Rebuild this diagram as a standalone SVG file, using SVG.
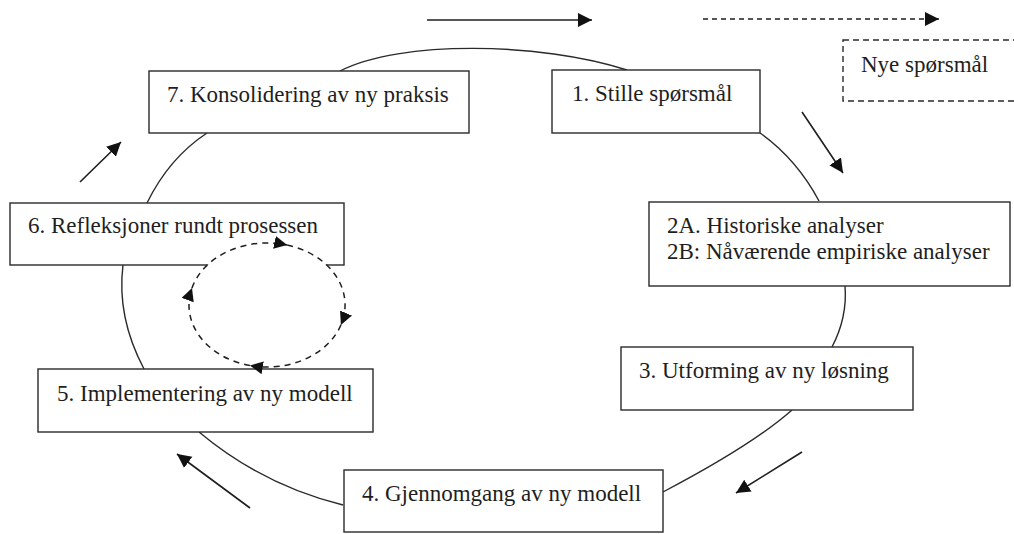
<svg xmlns="http://www.w3.org/2000/svg" width="1014" height="534" viewBox="0 0 1014 534">
<style>
.box{fill:#fff;stroke:#2a2a2a;stroke-width:1.4}
.dbox{fill:#fff;stroke:#2a2a2a;stroke-width:1.4;stroke-dasharray:6 4}
.t{font-family:"Liberation Serif","Times New Roman",serif;font-size:23px;fill:#1e1e1e}
.c{fill:none;stroke:#2a2a2a;stroke-width:1.4}
.a{fill:none;stroke:#1e1e1e;stroke-width:1.6}
.d{fill:none;stroke:#1e1e1e;stroke-width:1.6;stroke-dasharray:5 4}
.loop{fill:none;stroke:#1e1e1e;stroke-width:1.5;stroke-dasharray:6 5}
</style>
<defs>
<marker id="ah" markerUnits="userSpaceOnUse" markerWidth="16" markerHeight="16" refX="14" refY="7" orient="auto">
<path d="M0,0 L14,7 L0,14 Z" fill="#111"/>
</marker>
<marker id="ahs" markerUnits="userSpaceOnUse" markerWidth="16" markerHeight="16" refX="13" refY="6.5" orient="auto">
<path d="M0,0 L13,6.5 L0,13 Z" fill="#111"/>
</marker>
</defs>
<rect width="1014" height="534" fill="#fff"/>

<g id="connectors">
<path class="c" d="M627,70 C540,42 400,40 340,71"/>
<path class="c" d="M207,133 Q169,158 147,203"/>
<path class="c" d="M123,265 Q116.5,317 144,369"/>
<path class="c" d="M199,432 Q263,485.5 343,505"/>
<path class="c" d="M663,492 Q752.5,445 792,410"/>
<path class="c" d="M832,347 Q847.5,317.5 845,286"/>
<path class="c" d="M819,201 Q796.5,159 760,133"/>
<path class="a" d="M427,20 L592,20" marker-end="url(#ah)"/>
<path class="d" d="M703,19 L939,19" marker-end="url(#ah)"/>
<path class="a" d="M802,112 L843,173" marker-end="url(#ah)"/>
<path class="a" d="M802,452 L736,493" marker-end="url(#ah)"/>
<path class="a" d="M250,508 L177,454" marker-end="url(#ah)"/>
<path class="a" d="M80,182 L121,142" marker-end="url(#ah)"/>
</g>

<g id="n7"><rect class="box" x="149" y="71" width="320" height="62"/><text class="t" x="167" y="102">7. Konsolidering av ny praksis</text></g>
<g id="n1"><rect class="box" x="552" y="70" width="208" height="63"/><text class="t" x="572" y="101">1. Stille spørsmål</text></g>
<g id="nye"><rect class="dbox" x="843" y="40" width="180" height="61"/><text class="t" x="861" y="72">Nye spørsmål</text></g>
<g id="n6"><rect class="box" x="10" y="203" width="334" height="62"/><text class="t" x="28" y="233">6. Refleksjoner rundt prosessen</text></g>
<g id="n2"><rect class="box" x="649" y="202" width="361" height="84"/><text class="t" x="667" y="233">2A. Historiske analyser</text><text class="t" x="667" y="259">2B: Nåværende empiriske analyser</text></g>
<g id="n3"><rect class="box" x="621" y="347" width="292" height="63"/><text class="t" x="639" y="378">3. Utforming av ny løsning</text></g>
<g id="n5"><rect class="box" x="38" y="369" width="335" height="63"/><text class="t" x="57" y="401">5. Implementering av ny modell</text></g>
<g id="n4"><rect class="box" x="344" y="470" width="319" height="62"/><text class="t" x="362" y="501">4. Gjennomgang av ny modell</text></g>

<g id="loop">
<ellipse cx="267" cy="305" rx="78" ry="62" fill="#fff" stroke="none"/>
<path class="loop" d="M192,287.9 A78,62 0 0 1 287.2,245.1" marker-end="url(#ahs)"/>
<path class="loop" d="M287.2,245.1 A78,62 0 0 1 340.9,325" marker-end="url(#ahs)"/>
<path class="loop" d="M340.9,325 A78,62 0 0 1 249.9,365.5" marker-end="url(#ahs)"/>
<path class="loop" d="M249.9,365.5 A78,62 0 0 1 192,287.9" marker-end="url(#ahs)"/>
</g>
</svg>
